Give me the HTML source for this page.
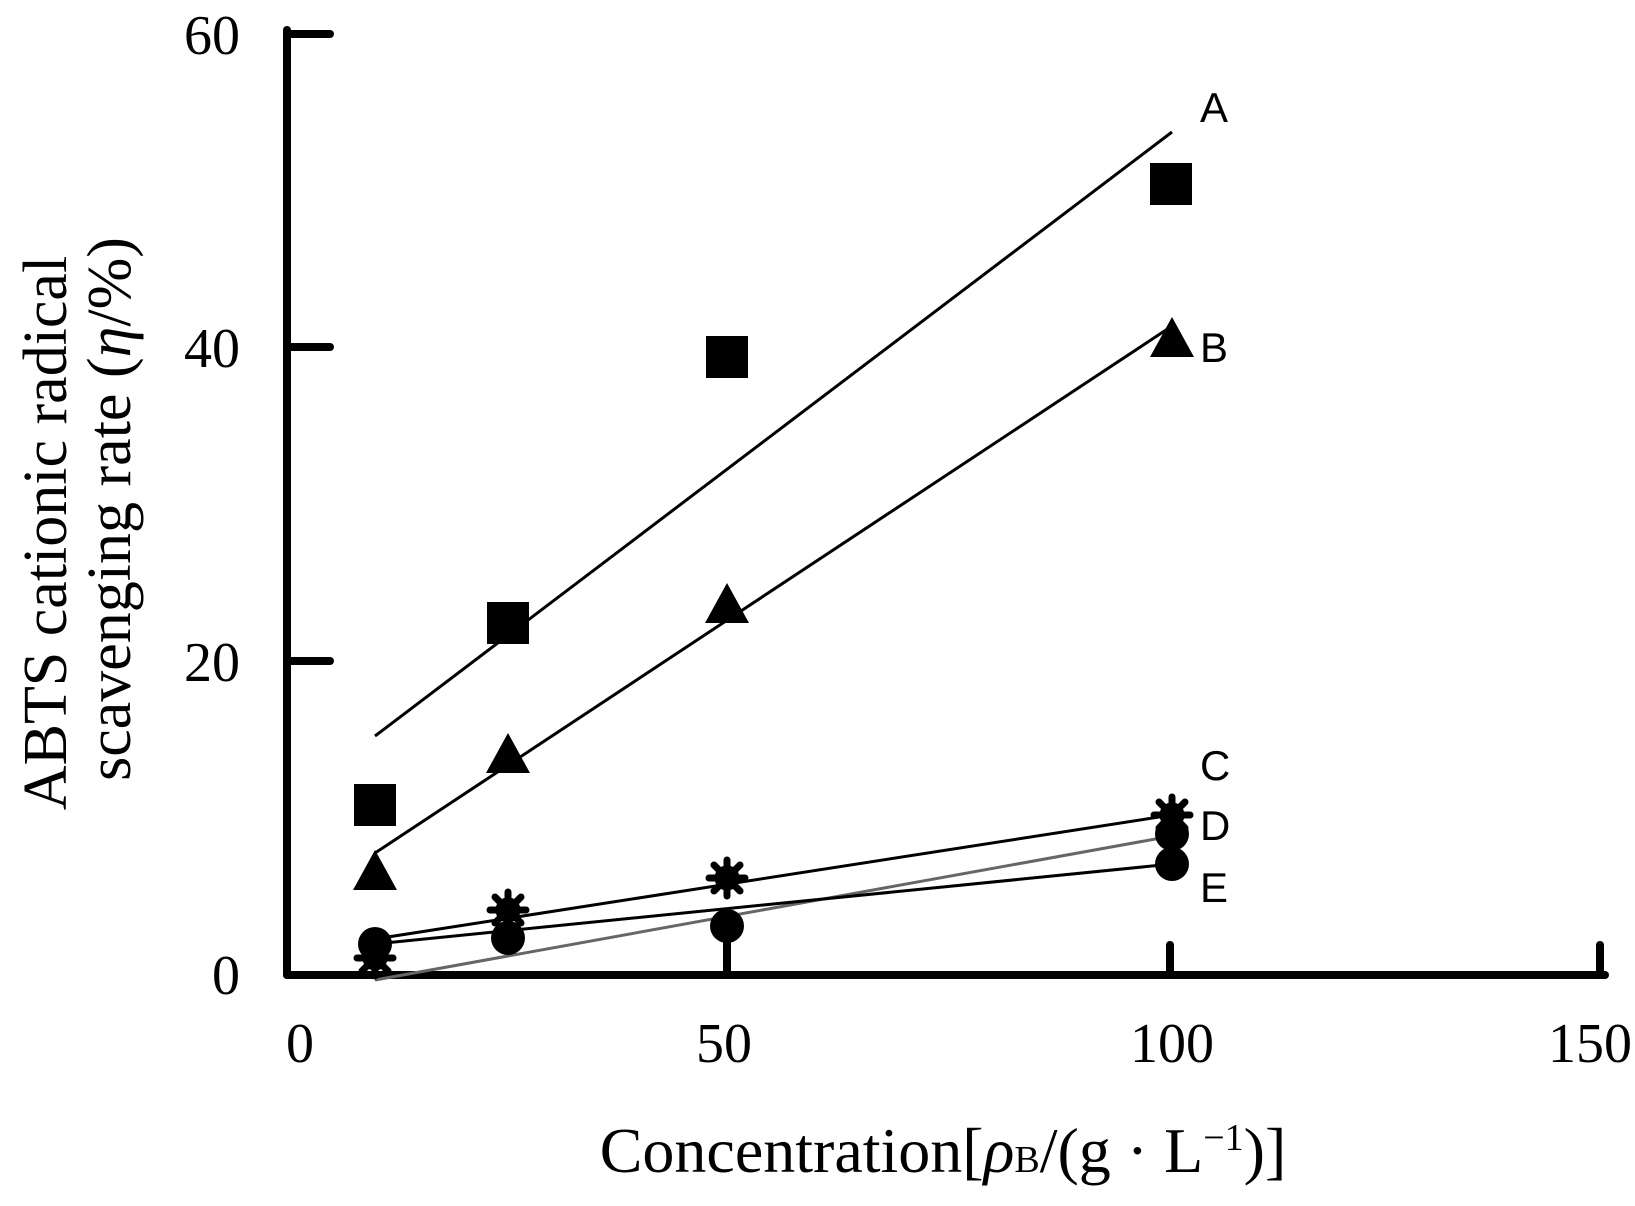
<!DOCTYPE html>
<html><head><meta charset="utf-8"><style>body{margin:0;background:#fff}</style></head><body>
<svg width="1635" height="1201" viewBox="0 0 1635 1201" xmlns="http://www.w3.org/2000/svg">
<defs>
<g id="st" stroke="#000" stroke-width="7" stroke-linecap="round">
<line x1="-18" y1="0" x2="18" y2="0"/><line x1="0" y1="-18" x2="0" y2="18"/>
<line x1="-13" y1="-13" x2="13" y2="13"/><line x1="-13" y1="13" x2="13" y2="-13"/>
<circle r="9" fill="#000"/>
</g>
</defs>
<g stroke="#000" stroke-width="8" stroke-linecap="round" fill="none">
<line x1="287" y1="30" x2="287" y2="975"/>
<line x1="287" y1="975" x2="1605" y2="975"/>
<line x1="287" y1="34" x2="330" y2="34"/>
<line x1="287" y1="347" x2="330" y2="347"/>
<line x1="287" y1="661" x2="330" y2="661"/>
<line x1="727" y1="948" x2="727" y2="975"/>
<line x1="1170" y1="945" x2="1170" y2="975"/>
<line x1="1600" y1="945" x2="1600" y2="975"/>
</g>
<g font-family="Liberation Serif, serif" font-size="56" text-anchor="end">
<text x="240" y="54">60</text><text x="240" y="367">40</text><text x="240" y="681">20</text><text x="240" y="994">0</text>
</g>
<g font-family="Liberation Serif, serif" font-size="56" text-anchor="middle">
<text x="300" y="1062">0</text><text x="724" y="1062">50</text><text x="1172" y="1062">100</text><text x="1590" y="1062">150</text>
</g>
<text x="943" y="1172" font-family="Liberation Serif, serif" font-size="64" text-anchor="middle">Concentration[<tspan font-style="italic">ρ</tspan><tspan font-size="38">B</tspan>/(g · L<tspan font-size="38" dy="-22">−1</tspan><tspan dy="22">)]</tspan></text>
<g font-family="Liberation Serif, serif" font-size="62" text-anchor="middle">
<text transform="translate(66,533) rotate(-90)">ABTS cationic radical</text>
<text transform="translate(130,509) rotate(-90)">scavenging rate (<tspan font-style="italic">η</tspan>/%)</text>
</g>
<g stroke-width="3" fill="none">
<line x1="375" y1="736" x2="1172" y2="132" stroke="#000"/>
<line x1="375" y1="853" x2="1172" y2="326" stroke="#000"/>
<line x1="375" y1="939" x2="1172" y2="815" stroke="#000"/>
<line x1="375" y1="980" x2="1172" y2="836" stroke="#666"/>
<line x1="375" y1="944" x2="1172" y2="864" stroke="#000"/>
</g>
<g fill="#000">
<rect x="354" y="784" width="42" height="42"/><rect x="487" y="602" width="42" height="42"/><rect x="706" y="336" width="42" height="42"/><rect x="1150" y="163" width="42" height="42"/>
<polygon points="375,850 397,890 353,890"/><polygon points="508,733 530,773 486,773"/><polygon points="727,583 749,623 705,623"/><polygon points="1172,317 1194,357 1150,357"/>
</g>
<use href="#st" x="508" y="910"/><use href="#st" x="727" y="878"/><use href="#st" x="1172" y="815"/><use href="#st" x="375" y="958"/>
<g fill="#000">
<circle cx="375" cy="944" r="17"/><circle cx="508" cy="938" r="17"/><circle cx="727" cy="926" r="17"/><circle cx="1172" cy="864" r="17"/><circle cx="1172" cy="834" r="17"/>
<rect x="723" y="926" width="8" height="30"/>
</g>
<g font-family="Liberation Sans, sans-serif" font-size="42">
<text x="1200" y="122">A</text><text x="1200" y="362">B</text><text x="1200" y="780">C</text><text x="1200" y="840">D</text><text x="1200" y="902">E</text>
</g>
</svg>
</body></html>
